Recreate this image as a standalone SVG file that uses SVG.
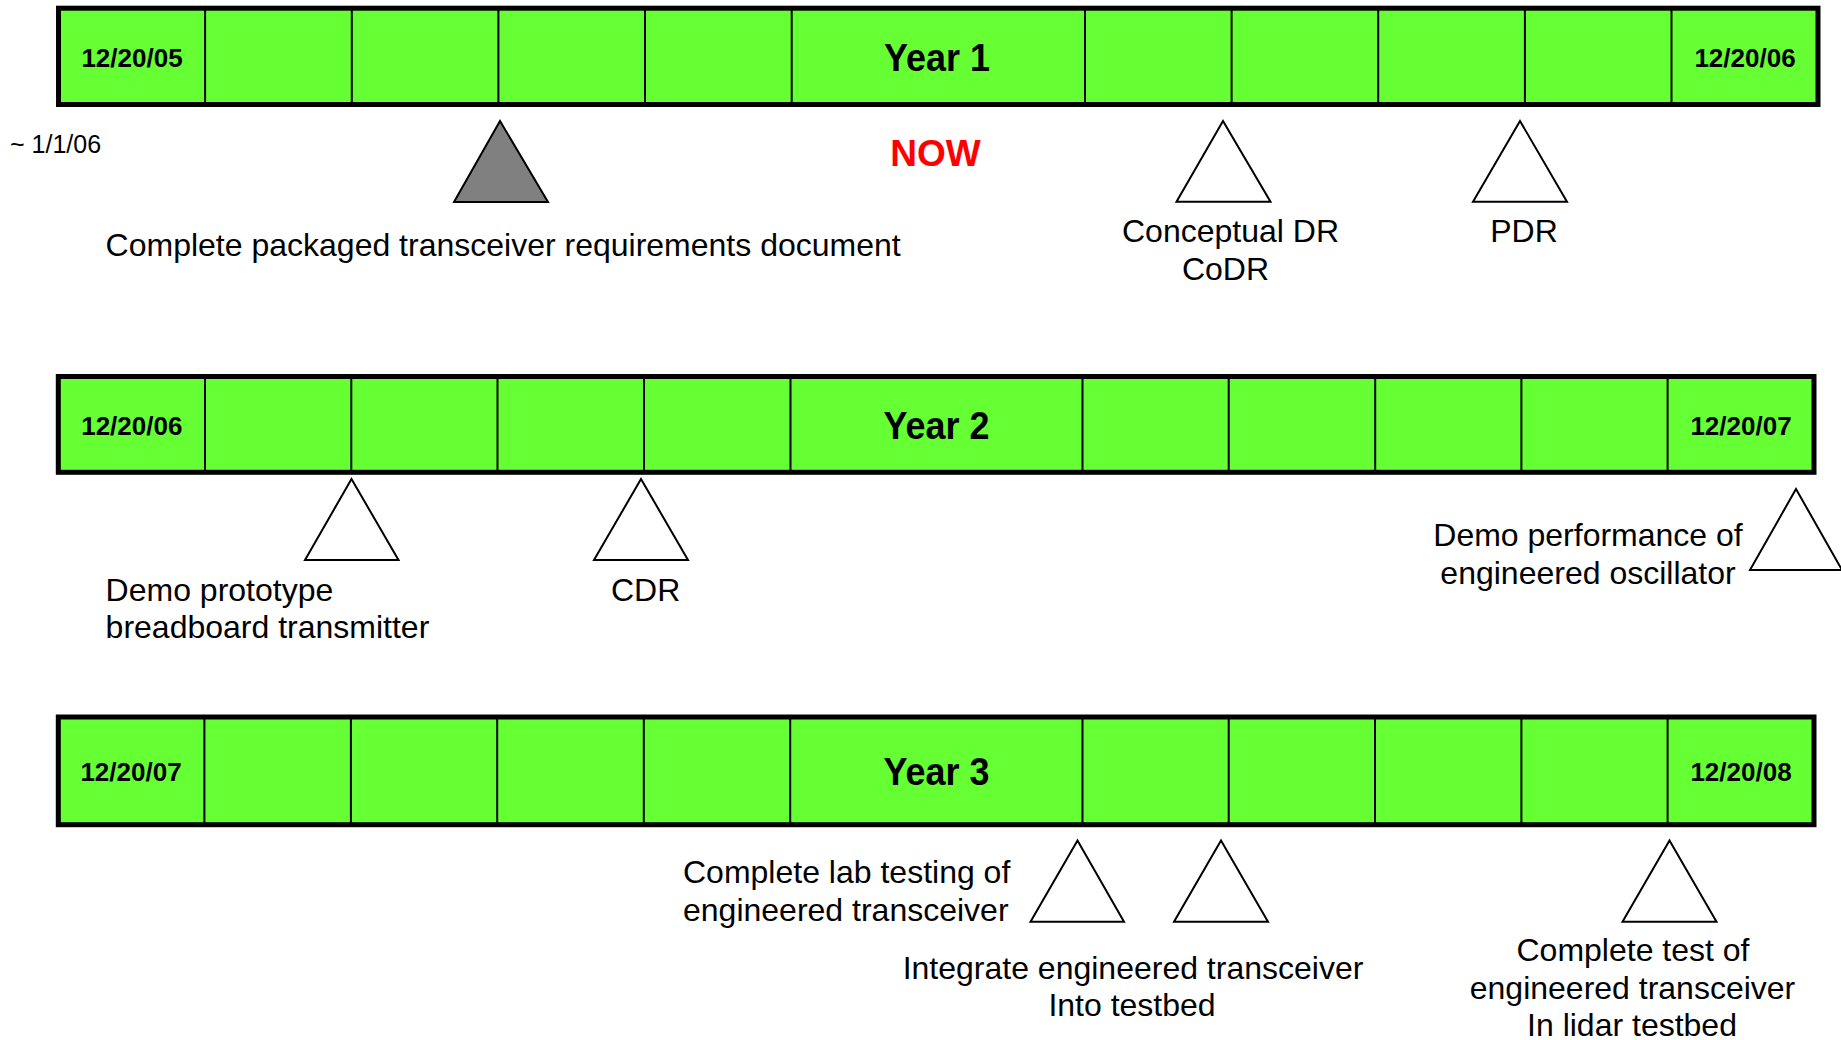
<svg xmlns="http://www.w3.org/2000/svg" width="1841" height="1040" viewBox="0 0 1841 1040">
<style>
.bar{fill:#66FF33;stroke:#000;stroke-width:5}
.div{stroke:#000;stroke-width:2}
.date{font-family:"Liberation Sans",Arial,sans-serif;font-weight:bold;font-size:26px;fill:#000;text-anchor:middle}
.year{font-family:"Liberation Sans",Arial,sans-serif;font-weight:bold;font-size:38px;fill:#000;text-anchor:middle}
.lbl{font-family:"Liberation Sans",Arial,sans-serif;font-size:32px;fill:#000}
.mid{text-anchor:middle}
.tri{fill:#fff;stroke:#000;stroke-width:2;stroke-linejoin:miter}
.done{fill:#808080}
.now{font-family:"Liberation Sans",Arial,sans-serif;font-weight:bold;font-size:37px;fill:#FF0000;text-anchor:middle}
.small{font-family:"Liberation Sans",Arial,sans-serif;font-size:25px;fill:#000}
</style>
<rect width="1841" height="1040" fill="#fff"/>

<g id="year1">
<rect class="bar" x="58.5" y="8.2" width="1759.5" height="96.3"/>
<path class="div" d="M205.1 8.2V104.5M351.8 8.2V104.5M498.4 8.2V104.5M645 8.2V104.5M791.7 8.2V104.5M1085 8.2V104.5M1231.6 8.2V104.5M1378.2 8.2V104.5M1524.9 8.2V104.5M1671.5 8.2V104.5"/>
<text class="date" x="132" y="66.7">12/20/05</text>
<text class="year" x="937" y="70.7" textLength="106" lengthAdjust="spacingAndGlyphs">Year 1</text>
<text class="date" x="1745" y="66.7">12/20/06</text>
</g>

<g id="year2">
<rect class="bar" x="58.3" y="376.5" width="1755.7" height="95.8"/>
<path class="div" d="M205 376.5V472.3M351.3 376.5V472.3M497.5 376.5V472.3M644 376.5V472.3M790.5 376.5V472.3M1082.5 376.5V472.3M1228.7 376.5V472.3M1375.2 376.5V472.3M1521.4 376.5V472.3M1667.6 376.5V472.3"/>
<text class="date" x="131.8" y="434.6">12/20/06</text>
<text class="year" x="936.5" y="438.6" textLength="106" lengthAdjust="spacingAndGlyphs">Year 2</text>
<text class="date" x="1741" y="434.6">12/20/07</text>
</g>

<g id="year3">
<rect class="bar" x="58.3" y="717" width="1755.7" height="107.7"/>
<path class="div" d="M204.4 717V824.7M350.9 717V824.7M497.2 717V824.7M643.8 717V824.7M790.2 717V824.7M1082.5 717V824.7M1228.7 717V824.7M1375 717V824.7M1521.4 717V824.7M1667.6 717V824.7"/>
<text class="date" x="131" y="781">12/20/07</text>
<text class="year" x="936.5" y="785" textLength="106" lengthAdjust="spacingAndGlyphs">Year 3</text>
<text class="date" x="1741" y="781">12/20/08</text>
</g>

<g id="now-marker">
<text class="small" x="10" y="152.5">~ 1/1/06</text>
<text class="now" x="935.5" y="165.5">NOW</text>
</g>

<g id="m-requirements">
<polygon class="tri done" points="500,121 454,202 548,202"/>
<text class="lbl" x="105.6" y="256">Complete packaged transceiver requirements document</text>
</g>

<g id="m-codr">
<polygon class="tri" points="1223,121 1176.5,201.7 1270.5,201.7"/>
<text class="lbl mid" x="1230.5" y="241.5">Conceptual DR</text>
<text class="lbl mid" x="1225.5" y="280">CoDR</text>
</g>

<g id="m-pdr">
<polygon class="tri" points="1520,121 1473,201.7 1567,201.7"/>
<text class="lbl mid" x="1524" y="241.5">PDR</text>
</g>

<g id="m-transmitter">
<polygon class="tri" points="351.5,479 305,560 398.5,560"/>
<text class="lbl" x="105.6" y="600.5">Demo prototype</text>
<text class="lbl" x="105.6" y="638">breadboard transmitter</text>
</g>

<g id="m-cdr">
<polygon class="tri" points="641,479 594,560 688,560"/>
<text class="lbl mid" x="645.6" y="600.5">CDR</text>
</g>

<g id="m-oscillator">
<polygon class="tri" points="1796,489 1750,570 1842,570"/>
<text class="lbl mid" x="1588" y="545.5">Demo performance of</text>
<text class="lbl mid" x="1588" y="583.5">engineered oscillator</text>
</g>

<g id="m-labtest">
<polygon class="tri" points="1077.5,840.5 1030.5,921.7 1124,921.7"/>
<text class="lbl" x="683" y="883">Complete lab testing of</text>
<text class="lbl" x="683" y="921">engineered transceiver</text>
</g>

<g id="m-integrate">
<polygon class="tri" points="1221,840.5 1174,921.7 1268,921.7"/>
<text class="lbl mid" x="1133" y="978.5">Integrate engineered transceiver</text>
<text class="lbl mid" x="1132" y="1016">Into testbed</text>
</g>

<g id="m-lidar">
<polygon class="tri" points="1669.5,840.5 1622.5,921.7 1716.5,921.7"/>
<text class="lbl mid" x="1633" y="961">Complete test of</text>
<text class="lbl mid" x="1632.5" y="998.5">engineered transceiver</text>
<text class="lbl mid" x="1632" y="1036">In lidar testbed</text>
</g>

<g id="connectors"></g>
</svg>
